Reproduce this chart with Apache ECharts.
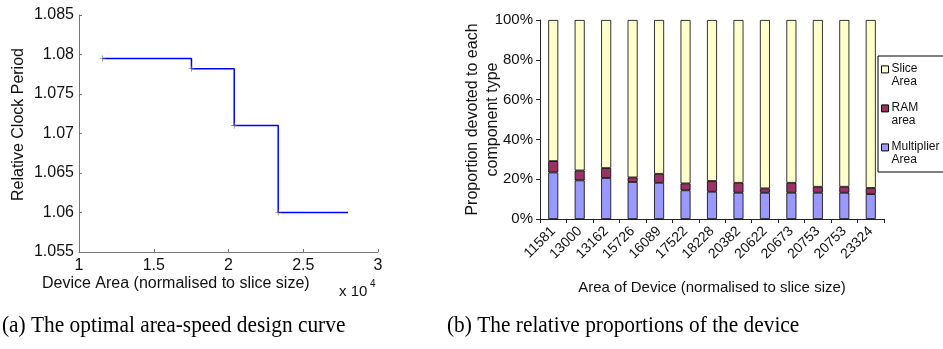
<!DOCTYPE html>
<html>
<head>
<meta charset="utf-8">
<script src="https://cdn.jsdelivr.net/npm/echarts@6/dist/echarts.min.js"></script>
<style>
html,body{margin:0;padding:0;background:#fff;}
#c{width:943px;height:349px;}
</style>
</head>
<body>
<div id="c"></div>
<script>
// ---- Left chart data (step curve) ----
const stepArea = [11581, 17522, 20382, 23324, 28000];
const stepPeriod = [1.0795, 1.0782, 1.0710, 1.0600, 1.0600];

// ---- Right chart data (stacked proportions, %) ----
const categories = ['11581','13000','13162','15726','16089','17522','18228','20382','20622','20673','20753','20753','23324'];
const multiplierArea = [23.4, 19.4, 20.6, 18.6, 18.2, 14.4, 13.7, 13.2, 13.2, 13.2, 13.2, 13.2, 12.5];
const ramArea = [5.7, 5.0, 5.0, 2.3, 4.5, 3.5, 5.4, 5.0, 2.2, 5.0, 3.0, 3.0, 3.1];
const sliceArea = [70.9, 75.6, 74.4, 79.1, 77.3, 82.1, 80.9, 81.8, 84.6, 81.8, 83.8, 83.8, 84.4];
const seriesNames = ['Slice\nArea', 'RAM\narea', 'Multiplier\nArea'];

const SANS = '"Liberation Sans", Arial, sans-serif';
const SERIF = '"Liberation Serif", "Times New Roman", serif';

const chart = echarts.init(document.getElementById('c'), null, {renderer: 'canvas'});

const stepData = stepArea.map((x, i) => {
  const item = {value: [x, stepPeriod[i]]};
  if (i === stepArea.length - 1) item.symbol = 'none';
  return item;
});

const plusPath = 'path://M0,4.5h10v1h-10z M4.5,0h1v10h-1z';
const legendIcon = 'path://M0,0h10v10h-10z M0,26h0.01v0.01h-0.01z';

const option = {
  animation: false,
  textStyle: {fontFamily: SANS},
  grid: [
    {left: 79, top: 15, width: 299, height: 237},
    {left: 540, top: 20, width: 344, height: 199}
  ],
  xAxis: [
    {
      gridIndex: 0, type: 'value', min: 10000, max: 30000, interval: 5000,
      axisLine: {show: true, lineStyle: {color: '#777', width: 1}},
      axisTick: {show: true, inside: true, length: 3, lineStyle: {color: '#777'}},
      splitLine: {show: false},
      axisLabel: {fontSize: 16, color: '#111', margin: 6, fontFamily: SANS,
        formatter: v => String(v / 10000)}
    },
    {
      gridIndex: 1, type: 'category', data: categories,
      axisLine: {show: true, lineStyle: {color: '#222', width: 1}},
      axisTick: {show: true, alignWithLabel: false, length: 4, lineStyle: {color: '#222'}},
      axisLabel: {rotate: 45, fontSize: 14, color: '#111', margin: 10, interval: 0, fontFamily: SANS},
      name: 'Area of Device (normalised to slice size)',
      nameLocation: 'middle', nameGap: 61, nameMoveOverlap: false,
      nameTextStyle: {fontSize: 15, color: '#111', fontFamily: SANS}
    }
  ],
  yAxis: [
    {
      gridIndex: 0, type: 'value', min: 1.055, max: 1.085, interval: 0.005,
      axisLine: {show: true, lineStyle: {color: '#777', width: 1}},
      axisTick: {show: true, inside: true, length: 3, lineStyle: {color: '#777'}},
      splitLine: {show: false},
      axisLabel: {fontSize: 16, color: '#111', margin: 5, fontFamily: SANS,
        formatter: v => String(+v.toFixed(3))},
      name: 'Relative Clock Period',
      nameLocation: 'middle', nameGap: 52, nameMoveOverlap: false,
      nameTextStyle: {fontSize: 16, color: '#111', fontFamily: SANS, padding: [0, 0, 0, 18]}
    },
    {
      gridIndex: 1, type: 'value', min: 0, max: 100, interval: 20,
      axisLine: {show: true, lineStyle: {color: '#222', width: 1}},
      axisTick: {show: true, length: 4, lineStyle: {color: '#222'}},
      splitLine: {show: false},
      axisLabel: {fontSize: 15, color: '#111', margin: 7, formatter: '{value}%', fontFamily: SANS},
      name: 'Proportion devoted to each\ncomponent type',
      nameLocation: 'middle', nameGap: 37, nameMoveOverlap: false,
      nameTextStyle: {fontSize: 16, color: '#111', lineHeight: 20, fontFamily: SANS}
    }
  ],
  legend: {
    data: seriesNames,
    orient: 'vertical',
    left: 878, top: 56,
    itemWidth: 7, itemHeight: 20,
    itemGap: 13,
    icon: legendIcon,
    padding: [6, 6, 6, 3],
    borderColor: '#000', borderWidth: 1,
    backgroundColor: '#fff',
    itemStyle: {borderColor: '#000', borderWidth: 1},
    textStyle: {fontSize: 12, lineHeight: 13, color: '#111', fontFamily: SANS, padding: [0, 0, 0, -2]}
  },
  series: [
    {
      type: 'line', xAxisIndex: 0, yAxisIndex: 0,
      step: 'end',
      data: stepData,
      showSymbol: true,
      symbol: plusPath, symbolSize: 6,
      itemStyle: {color: '#666'},
      lineStyle: {color: '#0000ff', width: 1.5},
      z: 3
    },
    {
      name: seriesNames[2], type: 'bar', xAxisIndex: 1, yAxisIndex: 1, stack: 'p',
      data: multiplierArea, barWidth: 10,
      itemStyle: {color: '#9999ff', borderColor: '#000', borderWidth: 0.8}
    },
    {
      name: seriesNames[1], type: 'bar', xAxisIndex: 1, yAxisIndex: 1, stack: 'p',
      data: ramArea, barWidth: 10,
      itemStyle: {color: '#993366', borderColor: '#000', borderWidth: 0.8}
    },
    {
      name: seriesNames[0], type: 'bar', xAxisIndex: 1, yAxisIndex: 1, stack: 'p',
      data: sliceArea, barWidth: 10,
      itemStyle: {color: '#ffffcc', borderColor: '#000', borderWidth: 0.8}
    }
  ],
  graphic: [
    {type: 'text', left: 42, top: 276,
      style: {text: 'Device Area (normalised to slice size)', font: '16px ' + SANS, fill: '#111'}},
    {type: 'text', left: 339, top: 284,
      style: {text: 'x 10', font: '15px ' + SANS, fill: '#111'}},
    {type: 'text', left: 370, top: 279,
      style: {text: '4', font: '10px ' + SANS, fill: '#111'}},
    {type: 'text', x: 2, y: 314, scaleX: 0.89,
      style: {text: '(a) The optimal area-speed design curve', font: '24px ' + SERIF, fill: '#000'}},
    {type: 'text', x: 447, y: 314, scaleX: 0.89,
      style: {text: '(b) The relative proportions of the device', font: '24px ' + SERIF, fill: '#000'}}
  ]
};
chart.setOption(option);
</script>
</body>
</html>
